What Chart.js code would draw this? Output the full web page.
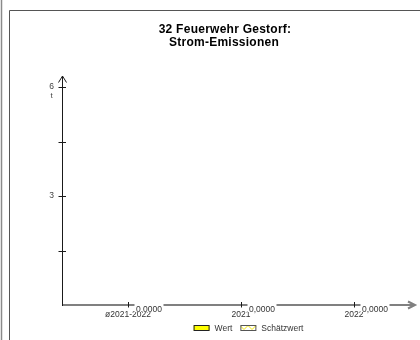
<!DOCTYPE html>
<html>
<head>
<meta charset="utf-8">
<script src="https://cdn.jsdelivr.net/npm/chart.js@4"></script>
<style>
  html, body { margin: 0; padding: 0; background: #fff; }
  #wrap { position: relative; width: 420px; height: 340px; }
</style>
</head>
<body>
<div id="wrap"><canvas id="myChart" width="420" height="340"></canvas></div>
<script>
// chart data
const titleLines = ['32 Feuerwehr Gestorf:', 'Strom-Emissionen'];
const categories = ['ø2021-2022', '2021', '2022'];
const wertValues = [0, 0, 0];
const schaetzValues = [0, 0, 0];
const valueLabels = ['0.0000', '0,0000', '0,0000'];
const yTickLabels = [3, 6];
const yUnit = 't';

const FONT = '"Liberation Sans", Arial, sans-serif';

// zigzag fill for the estimate series
function zigzagPattern() {
    const c = document.createElement('canvas');
    c.width = 8; c.height = 5;
    const g = c.getContext('2d');
    g.fillStyle = '#ffffff';
    g.fillRect(0, 0, 8, 5);
    g.strokeStyle = '#f2e600';
    g.lineWidth = 1;
    g.beginPath();
    g.moveTo(0, 0.5); g.lineTo(4, 4.5); g.lineTo(8, 0.5);
    g.stroke();
    return g.createPattern(c, 'repeat');
}

// frame, axes with arrows, value labels, title and legend
const decorations = {
    id: 'decorations',
    beforeDraw(chart) {
        const ctx = chart.ctx;
        ctx.save();
        ctx.strokeStyle = '#8a8a8a';
        ctx.lineWidth = 1.5;
        ctx.beginPath();
        ctx.moveTo(1.5, 0); ctx.lineTo(1.5, 340);
        ctx.stroke();
        ctx.strokeStyle = '#555';
        ctx.lineWidth = 1;
        ctx.beginPath();
        ctx.moveTo(9.5, 340); ctx.lineTo(9.5, 10.5); ctx.lineTo(420, 10.5);
        ctx.stroke();

        // title
        ctx.fillStyle = '#000';
        ctx.font = 'bold 12px ' + FONT;
        ctx.textAlign = 'center';
        ctx.textBaseline = 'alphabetic';
        if ('letterSpacing' in ctx) ctx.letterSpacing = '0.25px';
        ctx.fillText(titleLines[0], 225, 32.5);
        ctx.fillText(titleLines[1], 224, 45.5);
        if ('letterSpacing' in ctx) ctx.letterSpacing = '0px';
        ctx.restore();
    },
    afterDraw(chart) {
        const ctx = chart.ctx;
        const x = chart.scales.x, y = chart.scales.y;
        const ax = 62.5;
        const ay = y.getPixelForValue(0);
        ctx.save();

        // x axis
        ctx.strokeStyle = '#808080';
        ctx.lineWidth = 2;
        ctx.beginPath();
        ctx.moveTo(ax, ay); ctx.lineTo(414, ay);
        ctx.moveTo(408, ay - 3.5); ctx.lineTo(415, ay); ctx.lineTo(408, ay + 3.5);
        ctx.stroke();

        // y axis
        ctx.strokeStyle = '#1a1a1a';
        ctx.lineWidth = 1;
        ctx.beginPath();
        ctx.moveTo(ax, ay + 1); ctx.lineTo(ax, 76);
        ctx.moveTo(58.5, 82.5); ctx.lineTo(ax, 76); ctx.lineTo(66.5, 82.5);
        ctx.stroke();

        // y tick marks
        ctx.beginPath();
        y.ticks.forEach(t => {
            if (t.value === 0) return;
            const py = Math.round(y.getPixelForValue(t.value)) + 0.5;
            ctx.moveTo(58.5, py); ctx.lineTo(66, py);
        });
        ctx.stroke();

        // unit under top label
        ctx.fillStyle = '#444';
        ctx.font = '8px ' + FONT;
        ctx.textAlign = 'center';
        ctx.textBaseline = 'alphabetic';
        ctx.fillText(yUnit, 51.5, 97.5);

        // x tick marks and value labels
        ctx.font = '8.5px ' + FONT;
        ctx.textAlign = 'left';
        categories.forEach((c, i) => {
            const px = Math.round(x.getPixelForValue(i)) + 0.5;
            const vy = y.getPixelForValue(wertValues[i]);
            const w = ctx.measureText(valueLabels[i]).width;
            ctx.fillStyle = '#fff';
            ctx.fillRect(px + 6, vy - 2, w + 3, 9);
            ctx.strokeStyle = '#1a1a1a';
            ctx.lineWidth = 1;
            ctx.beginPath();
            ctx.moveTo(px, vy - 3); ctx.lineTo(px, vy + 2.5);
            ctx.stroke();
            ctx.fillStyle = '#333';
            ctx.fillText(valueLabels[i], px + 7.5, vy + 6.5);
        });

        // legend
        ctx.font = '8.5px ' + FONT;
        const ds = chart.data.datasets;
        const boxW = 16, gap = 5, itemGap = 8;
        let total = 0;
        ds.forEach((d, i) => {
            total += boxW + gap + ctx.measureText(d.label).width + (i < ds.length - 1 ? itemGap : 0);
        });
        let lx = 248.5 - total / 2;
        ds.forEach(d => {
            ctx.fillStyle = d.backgroundColor;
            ctx.fillRect(lx, 325.5, boxW, 5);
            ctx.strokeStyle = d.borderColor;
            ctx.lineWidth = 1;
            ctx.strokeRect(lx + 0.5, 325.5, boxW - 1, 5);
            ctx.fillStyle = '#333';
            ctx.fillText(d.label, lx + boxW + gap, 331.2);
            lx += boxW + gap + ctx.measureText(d.label).width + itemGap;
        });
        ctx.restore();
    }
};

new Chart(document.getElementById('myChart'), {
    type: 'bar',
    data: {
        labels: categories,
        datasets: [{
            label: 'Wert',
            data: wertValues,
            backgroundColor: '#ffff00',
            borderColor: '#222',
            borderWidth: 1
        }, {
            label: 'Schätzwert',
            data: schaetzValues,
            backgroundColor: zigzagPattern(),
            borderColor: '#555',
            borderWidth: 1
        }]
    },
    options: {
        responsive: false,
        animation: false,
        layout: { padding: { top: 87, right: 9.5, left: 0, bottom: 0 } },
        plugins: {
            legend: { display: false },
            title: { display: false },
            tooltip: { enabled: false }
        },
        scales: {
            x: {
                offset: true,
                grid: { display: false, drawTicks: false },
                border: { display: false },
                ticks: {
                    padding: 5,
                    maxRotation: 0,
                    autoSkip: false,
                    color: '#333',
                    font: { family: FONT, size: 8.5 }
                },
                afterFit(s) { s.height = 35; }
            },
            y: {
                min: 0,
                max: 6,
                grid: { display: false, drawTicks: false },
                border: { display: false },
                ticks: {
                    stepSize: 1.5,
                    padding: 17.5,
                    color: '#444',
                    font: { family: FONT, size: 8.5 },
                    callback: v => yTickLabels.includes(v) ? String(v) : ''
                },
                afterFit(s) { s.width = 71.5; }
            }
        }
    },
    plugins: [decorations]
});
</script>
</body>
</html>
